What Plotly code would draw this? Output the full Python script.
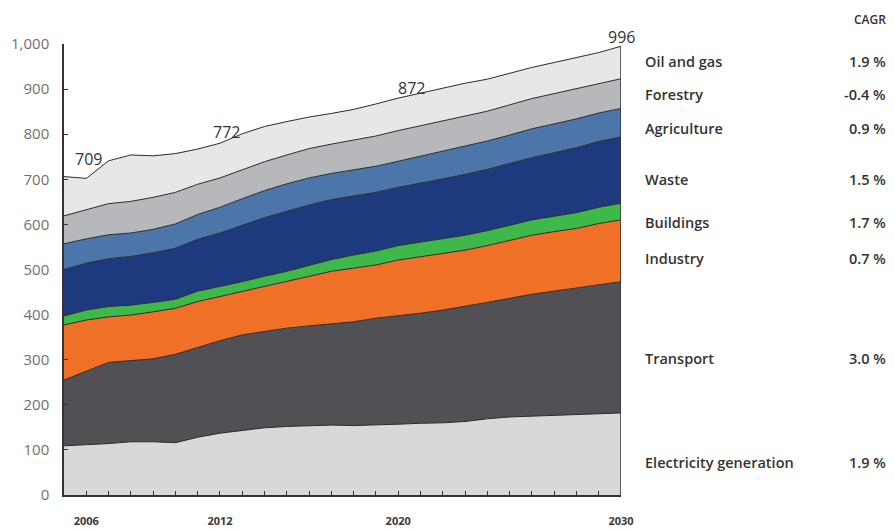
import plotly.graph_objects as go

# Emissions by sector, stacked (Mt CO2e), 2005-2030
years = list(range(2005, 2031))

electricity = [109, 111, 114, 118, 118, 116, 128, 137, 143, 149, 152, 154, 155,
               154, 155, 157, 159, 160, 163, 169, 173, 175, 177, 179, 181, 182]
transport = [146, 164, 180, 180, 184, 196, 199, 205, 212, 213, 218, 221, 224,
             230, 237, 240, 244, 250, 255, 258, 263, 270, 275, 280, 285, 291]
industry = [122, 113, 101, 101, 104, 102, 102, 98, 96, 100, 103, 109, 117,
            119, 118, 124, 125, 126, 125, 126, 129, 131, 132, 132, 136, 137]
buildings = [20, 22, 23, 22, 21, 20, 23, 22, 22, 23, 23, 25, 26,
             29, 31, 32, 33, 33, 33, 33, 33, 34, 34, 35, 36, 37]
waste = [103, 104, 106, 108, 110, 113, 115, 119, 125, 130, 133, 134, 133,
         131, 130, 129, 130, 132, 135, 136, 137, 138, 141, 144, 146, 147]
agriculture = [57, 54, 53, 52, 52, 54, 55, 57, 59, 60, 61, 60, 58,
               58, 58, 58, 60, 62, 63, 63, 63, 64, 64, 64, 63, 63]
forestry = [62, 65, 69, 70, 71, 70, 67, 65, 64, 64, 64, 65, 65,
            66, 67, 68, 68, 67, 66, 66, 67, 67, 67, 67, 66, 66]
oil_gas = [87, 69, 95, 103, 92, 86, 78, 77, 80, 78, 74, 70, 68,
           68, 71, 72, 72, 72, 73, 71, 70, 69, 69, 69, 68, 72]

sector_names = ["Electricity generation", "Transport", "Industry", "Buildings",
                "Waste", "Agriculture", "Forestry", "Oil and gas"]
cagr_labels = ["1.9 %", "3.0 %", "0.7 %", "1.7 %", "1.5 %", "0.9 %", "-0.4 %", "1.9 %"]

total_labels = ["709", "772", "872", "996"]
x_tick_labels = [2006, 2012, 2020, 2030]

series = [electricity, transport, industry, buildings, waste, agriculture, forestry, oil_gas]
colors = ["#d8d8da", "#505055", "#f07027", "#3fb84a", "#1e3a7e", "#4c75aa", "#b6b8bc", "#e7e7e9"]

fig = go.Figure()

for name, vals, col in zip(sector_names, series, colors):
    fig.add_trace(go.Scatter(
        x=years, y=vals, name=name, mode='lines', stackgroup='all',
        line=dict(color='#2b2b2b', width=1),
        fillcolor=col, showlegend=False
    ))

# right edge of the stack
total = [sum(v) for v in zip(*series)]
fig.add_trace(go.Scatter(
    x=[years[-1], years[-1]], y=[0, total[-1]], mode='lines',
    line=dict(color='#333333', width=1.5), showlegend=False
))

label_font = dict(family='Open Sans, sans-serif', size=14.5, color='#333333', weight=600)
callout_font = dict(family='Open Sans, sans-serif', size=16, color='#333333')

annotations = []
# total value callouts along the top line
for txt, (xx, yy) in zip(total_labels[:3], [(2006.1, 745), (2012.3, 805), (2020.6, 902)]):
    annotations.append(dict(x=xx, y=yy, xref='x', yref='y', text=txt, showarrow=False,
                            font=callout_font))
# last callout sits just above the 2030 total (kept inside the axis range)
annotations.append(dict(x=years[-1], y=total[-1], xref='x', yref='y', text=total_labels[3],
                        showarrow=False, yanchor='middle', yshift=9, font=callout_font))

# sector labels and CAGR on the right (plot area spans 557 x 451 px)
label_px = [462, 358, 258, 223, 179, 128, 95, 61]
for name, cagr, ypx in zip(sector_names, cagr_labels, label_px):
    yp = (495 - ypx) / 451
    annotations.append(dict(x=(643 - 64) / 557, y=yp, xref='paper', yref='paper', text=name,
                            showarrow=False, xanchor='left', yanchor='middle', font=label_font))
    annotations.append(dict(x=(888 - 64) / 557, y=yp, xref='paper', yref='paper', text=cagr,
                            showarrow=False, xanchor='right', yanchor='middle', font=label_font))
annotations.append(dict(x=(888 - 64) / 557, y=(495 - 19) / 451, xref='paper', yref='paper', text='CAGR',
                        showarrow=False, xanchor='right', yanchor='middle',
                        font=dict(family='Open Sans, sans-serif', size=12, color='#333333', weight=600)))

# the page body has an 8px margin, so the figure is shifted by 8px
fig.update_layout(
    width=887, height=521, autosize=False,
    paper_bgcolor='white', plot_bgcolor='white',
    margin=dict(l=56, r=274, t=36, b=34),
    annotations=annotations,
    xaxis=dict(
        range=[2005, 2030], showgrid=False, zeroline=False, automargin=False,
        showline=True, linecolor='#333333', linewidth=1.5,
        ticks='inside', ticklen=4, tickcolor='#333333',
        tickvals=years,
        ticktext=[str(y) if y in x_tick_labels else '' for y in years],
        tickfont=dict(family='Open Sans, sans-serif', size=11, color='#3a3a3a', weight=700),
        ticklabelstandoff=15,
    ),
    yaxis=dict(
        range=[0, 1000], showgrid=False, zeroline=False, automargin=False,
        showline=True, linecolor='#333333', linewidth=1.5,
        ticks='inside', ticklen=4, tickcolor='#333333',
        tickvals=[0, 100, 200, 300, 400, 500, 600, 700, 800, 900, 1000],
        tickformat=',',
        tickfont=dict(family='Open Sans, sans-serif', size=15, color='#707070'),
        ticklabelstandoff=10,
    ),
)

fig.write_html("out.html")
